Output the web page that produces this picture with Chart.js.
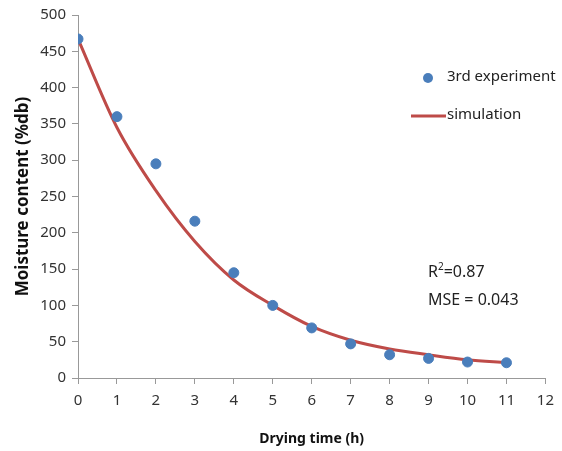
<!DOCTYPE html>
<html>
<head>
<meta charset="utf-8">
<script src="https://cdn.jsdelivr.net/npm/chart.js@4"></script>
<style>
  body { margin: 0; background: #fff; }
  #wrap { width: 562px; height: 451px; }
</style>
</head>
<body>
<div id="wrap"><canvas id="myChart" width="562" height="451"></canvas></div>
<script>
var hours = [0, 1, 2, 3, 4, 5, 6, 7, 8, 9, 10, 11];
var experiment = [467, 360, 295, 216, 145, 100, 69, 47, 32, 27, 22, 21];
var simulation = [467, 345, 258, 188, 135, 100, 71, 52, 40, 32, 25, 21];
var xTicks = [0, 1, 2, 3, 4, 5, 6, 7, 8, 9, 10, 11, 12];
var yTicks = [0, 50, 100, 150, 200, 250, 300, 350, 400, 450, 500];

var font = "'Noto Sans', sans-serif";

// legend and the R2 / MSE note, drawn by hand like in the original
var notes = {
  id: 'notes',
  afterDraw: function (chart) {
    var c = chart.ctx;
    c.save();
    c.font = '15px ' + font;
    c.textBaseline = 'middle';
    c.beginPath();
    c.arc(428, 78, 5, 0, Math.PI * 2);
    c.fillStyle = '#4a7ebb';
    c.fill();
    c.fillStyle = '#222';
    c.fillText('3rd experiment', 447, 77);
    c.strokeStyle = '#be4b48';
    c.lineWidth = 3;
    c.beginPath();
    c.moveTo(411, 116);
    c.lineTo(446, 116);
    c.stroke();
    c.fillText('simulation', 447, 115);

    c.font = '16px ' + font;
    c.fillText('R', 428, 272);
    var w = c.measureText('R').width;
    c.font = '10px ' + font;
    c.fillText('2', 428 + w, 267);
    var w2 = c.measureText('2').width;
    c.font = '16px ' + font;
    c.fillText('=0.87', 428 + w + w2, 272);
    c.fillText('MSE = 0.043', 428, 300);
    c.restore();
  }
};

var ctx = document.getElementById('myChart');
var myChart = new Chart(ctx, {
  type: 'scatter',
  data: {
    datasets: [{
      label: '3rd experiment',
      data: hours.map(function (h, i) { return { x: h, y: experiment[i] }; }),
      backgroundColor: '#4a7ebb',
      borderColor: '#4a7ebb',
      pointRadius: 5,
      order: 0
    }, {
      label: 'simulation',
      data: hours.map(function (h, i) { return { x: h, y: simulation[i] }; }),
      showLine: true,
      borderColor: '#be4b48',
      borderWidth: 3,
      pointRadius: 0,
      cubicInterpolationMode: 'monotone',
      order: 1
    }]
  },
  options: {
    responsive: false,
    animation: false,
    layout: { padding: { top: 8, right: 13, left: 9, bottom: 0 } },
    plugins: {
      legend: { display: false },
      tooltip: { enabled: false }
    },
    scales: {
      x: {
        type: 'linear',
        min: 0, max: 12,
        afterBuildTicks: function (s) { s.ticks = xTicks.map(function (v) { return { value: v }; }); },
        afterFit: function (s) { s.height = 73; },
        border: { color: '#999', width: 1 },
        grid: { drawOnChartArea: false, color: '#999', tickLength: 6 },
        ticks: { color: '#333', font: { family: font, size: 15 }, padding: 8 },
        title: {
          display: true, text: 'Drying time (h)', color: '#111',
          font: { family: font, size: 14, weight: 'bold' }, padding: { top: 10 }
        }
      },
      y: {
        min: 0, max: 500,
        afterBuildTicks: function (s) { s.ticks = yTicks.map(function (v) { return { value: v }; }); },
        afterFit: function (s) { s.width = 69; },
        border: { color: '#999', width: 1 },
        grid: { drawOnChartArea: false, color: '#999', tickLength: 6 },
        ticks: { color: '#333', font: { family: font, size: 15 }, padding: 6 },
        title: {
          display: true, text: 'Moisture content (%db)', color: '#111',
          font: { family: font, size: 17, weight: 'bold' }, padding: { top: 4, bottom: 4 }
        }
      }
    }
  },
  plugins: [notes]
});
</script>
</body>
</html>
